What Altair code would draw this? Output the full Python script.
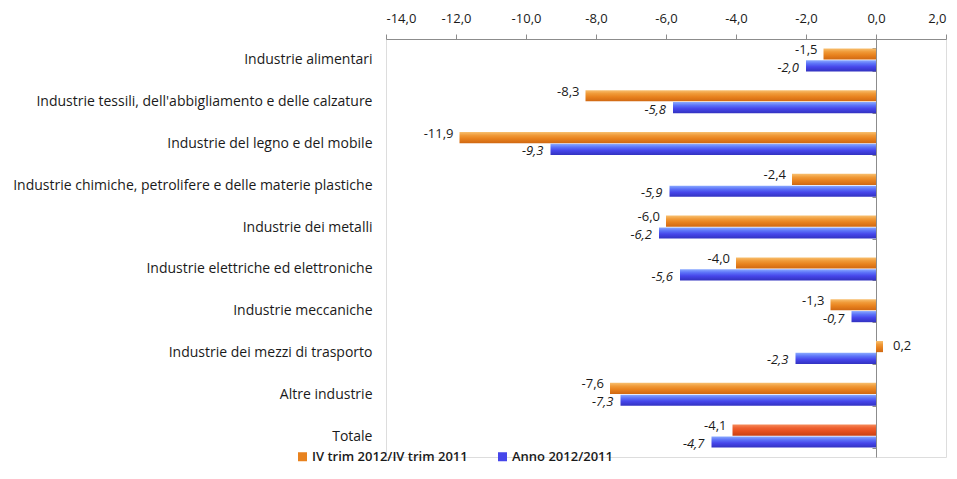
import altair as alt
import pandas as pd

categories = [
    "Industrie alimentari",
    "Industrie tessili, dell'abbigliamento e delle calzature",
    "Industrie del legno e del mobile",
    "Industrie chimiche, petrolifere e delle materie plastiche",
    "Industrie dei metalli",
    "Industrie elettriche ed elettroniche",
    "Industrie meccaniche",
    "Industrie dei mezzi di trasporto",
    "Altre industrie",
    "Totale",
]
series_names = ["IV trim 2012/IV trim 2011", "Anno 2012/2011"]
trim_values = [-1.5, -8.3, -11.9, -2.4, -6.0, -4.0, -1.3, 0.2, -7.6, -4.1]
anno_values = [-2.0, -5.8, -9.3, -5.9, -6.2, -5.6, -0.7, -2.3, -7.3, -4.7]
tick_values = [-14, -12, -10, -8, -6, -4, -2, 0, 2]

rows = []
for c, a, b in zip(categories, trim_values, anno_values):
    rows.append({"cat": c, "series": series_names[0], "v": a})
    rows.append({"cat": c, "series": series_names[1], "v": b})
df = pd.DataFrame(rows)

FONT = "Open Sans"
S1, S2 = series_names
FMT = "replace(replace(format({0}, '.1f'), '.', ','), '\u2212', '-')"

def grad(stops):
    return alt.LinearGradient(
        gradient="linear", x1=0, x2=0, y1=0, y2=1,
        stops=[alt.GradientStop(offset=o, color=c) for o, c in stops],
    )

orange_grad = grad([(0, "#F8C070"), (0.3, "#F09A38"), (0.6, "#E8821E"), (1, "#D06812")])
red_grad = grad([(0, "#F58A5A"), (0.3, "#EE6030"), (0.6, "#E5501E"), (1, "#C84014")])
blue_grad = grad([(0, "#8AAAFF"), (0.3, "#5C72F8"), (0.6, "#4646EA"), (1, "#3232C0")])

y_enc = alt.Y(
    "cat:N",
    sort=categories,
    scale=alt.Scale(paddingInner=0.45, paddingOuter=0.225),
    axis=alt.Axis(
        title=None, orient="left", offset=-490, domain=True, domainColor="#8c8c8c",
        ticks=True, tickBand="extent", tickSize=4, tickColor="#8c8c8c",
        labelPadding=500, labelFont=FONT, labelFontSize=14, labelColor="#1a1a1a",
        labelLimit=600,
    ),
)
yoff = alt.YOffset("series:N", sort=series_names, scale=alt.Scale(paddingInner=0.06))
x_enc = alt.X(
    "v:Q",
    scale=alt.Scale(domain=[-14, 2], nice=False, zero=False),
    axis=alt.Axis(
        title=None, orient="top", values=tick_values, grid=False,
        domain=True, domainColor="#8c8c8c", tickColor="#8c8c8c", tickSize=5,
        labelPadding=9, labelFont=FONT, labelFontSize=13, labelColor="#1a1a1a",
        labelExpr=FMT.format("datum.value"),
    ),
)

base = alt.Chart(df).transform_calculate(lab=FMT.format("datum.v"))

orange_bars = base.transform_filter(
    (alt.datum.series == S1) & (alt.datum.cat != "Totale")
).mark_bar(fill=orange_grad).encode(x=x_enc, y=y_enc, yOffset=yoff)

red_bar = base.transform_filter(
    (alt.datum.series == S1) & (alt.datum.cat == "Totale")
).mark_bar(fill=red_grad).encode(x="v:Q", y=y_enc, yOffset=yoff)

blue_bars = base.transform_filter(alt.datum.series == S2).mark_bar(
    fill=blue_grad
).encode(x="v:Q", y=y_enc, yOffset=yoff)

lab_o_neg = base.transform_filter(
    (alt.datum.series == S1) & (alt.datum.v < 0)
).mark_text(align="right", baseline="middle", dx=-6, dy=-4, font=FONT,
            fontSize=13, color="#1a1a1a").encode(
    x="v:Q", y=y_enc, yOffset=yoff, text="lab:N")

lab_o_pos = base.transform_filter(
    (alt.datum.series == S1) & (alt.datum.v >= 0)
).mark_text(align="left", baseline="middle", dx=10, dy=-1, font=FONT,
            fontSize=13, color="#1a1a1a").encode(
    x="v:Q", y=y_enc, yOffset=yoff, text="lab:N")

lab_b = base.transform_filter(alt.datum.series == S2).mark_text(
    align="right", baseline="middle", dx=-7, dy=2, font=FONT, fontSize=13,
    fontStyle="italic", color="#1a1a1a").encode(
    x="v:Q", y=y_enc, yOffset=yoff, text="lab:N")

legend_layer = base.transform_filter("false").mark_bar().encode(
    color=alt.Color(
        "series:N",
        scale=alt.Scale(domain=series_names, range=["#E8821E", "#4646EA"]),
        legend=alt.Legend(
            title=None, orient="none", legendX=-90, legendY=411,
            direction="horizontal", symbolType="square", symbolSize=81,
            symbolStrokeWidth=0, labelFont=FONT, labelFontSize=13,
            labelFontWeight=600, labelColor="#1a1a1a", columnPadding=28,
            labelOffset=3, padding=0,
        ),
    ),
)

chart = alt.layer(
    orange_bars, red_bar, blue_bars, lab_o_neg, lab_o_pos, lab_b, legend_layer
).properties(
    width=560, height=418,
    autosize=alt.AutoSizeParams(type="none"),
    padding={"left": 378, "top": 31, "right": 3, "bottom": 8},
).configure_view(stroke=None).configure(background="white")

chart.save("out.html", embed_options={"renderer": "svg", "actions": False})
